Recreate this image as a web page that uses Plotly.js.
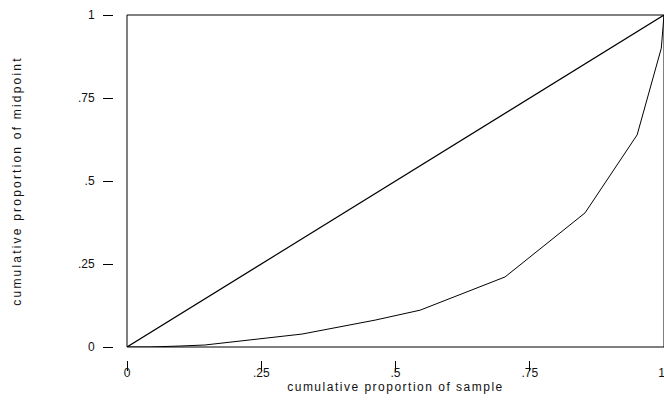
<!DOCTYPE html>
<html>
<head>
<meta charset="utf-8">
<script src="https://cdn.plot.ly/plotly-3.0.1.min.js"></script>
<style>
  html, body { margin: 0; padding: 0; background: #fff; }
  #chart { width: 664px; height: 406px; }
  .xtitle { letter-spacing: 1.5px; }
  .ytitle { letter-spacing: 2.2px; }
</style>
</head>
<body>
<div id="chart"></div>
<script>
// Line of perfect equality
const equalityX = [0, 1];
const equalityY = [0, 1];

// Lorenz curve: cumulative proportion of sample vs. cumulative proportion of midpoint
const sampleShare = [0, 0.043, 0.099, 0.145, 0.326, 0.462, 0.546, 0.704, 0.853, 0.950, 0.995, 1];
const midpointShare = [0, 0, 0.003, 0.006, 0.039, 0.081, 0.111, 0.211, 0.404, 0.639, 0.90, 1];

const tickVals = [0, 0.25, 0.5, 0.75, 1];
const tickText = ['0', '.25', '.5', '.75', '1'];

const W = 664, H = 406;
const mL = 100, mR = 0, mT = 15, mB = 46;
const plotLeft = 127, plotBottom = 347;
const xDomStart = (plotLeft - mL) / (W - mL - mR);
const yDom0 = ((H - mB) - plotBottom) / (H - mT - mB);

const font = { family: '"Liberation Sans", Arial, sans-serif', size: 12, color: '#111' };

const traces = [
  {
    x: equalityX, y: equalityY, type: 'scatter', mode: 'lines',
    line: { color: '#000', width: 1.2 }, hoverinfo: 'skip', showlegend: false
  },
  {
    x: sampleShare, y: midpointShare, type: 'scatter', mode: 'lines',
    line: { color: '#000', width: 1 }, hoverinfo: 'skip', showlegend: false
  }
];

const layout = {
  width: W, height: H,
  margin: { l: mL, r: mR, t: mT, b: mB, pad: 0 },
  paper_bgcolor: '#fff', plot_bgcolor: '#fff',
  font: font,
  showlegend: false,
  xaxis: {
    domain: [xDomStart, 1],
    range: [0, 1],
    anchor: 'free', position: 0,
    showgrid: false, zeroline: false, showline: false,
    ticks: 'outside', ticklen: 10, tickwidth: 1, tickcolor: '#000',
    tickvals: tickVals, ticktext: tickText,
    ticklabelstandoff: -8,
    ticklabeloverflow: 'allow',
    tickfont: font,
    title: { text: 'cumulative proportion of sample', font: font, standoff: 0 }
  },
  yaxis: {
    domain: [yDom0, 1],
    range: [0, 1],
    anchor: 'free', position: (113 - mL) / (W - mL - mR),
    showgrid: false, zeroline: false, showline: false,
    ticks: 'outside', ticklen: 10, tickwidth: 1, tickcolor: '#000',
    tickvals: tickVals, ticktext: tickText,
    ticklabelstandoff: 6,
    ticklabeloverflow: 'allow',
    tickfont: font,
    title: { text: 'cumulative proportion of midpoint', font: font, standoff: 52 }
  },
  shapes: [
    {
      type: 'rect', xref: 'x domain', yref: 'y domain',
      x0: 0, x1: 1, y0: 0, y1: 1,
      line: { color: '#000', width: 1 }, fillcolor: 'rgba(0,0,0,0)', layer: 'above'
    }
  ]
};

Plotly.newPlot('chart', traces, layout, { staticPlot: true, displayModeBar: false })
  .then(function (gd) {
    // the last x label sits at the page edge: right-align it to its tick
    const labels = gd.querySelectorAll('.xtick text');
    if (labels.length) {
      const last = labels[labels.length - 1];
      last.setAttribute('text-anchor', 'end');
      last.setAttribute('dx', '1');
    }
  });
</script>
</body>
</html>
